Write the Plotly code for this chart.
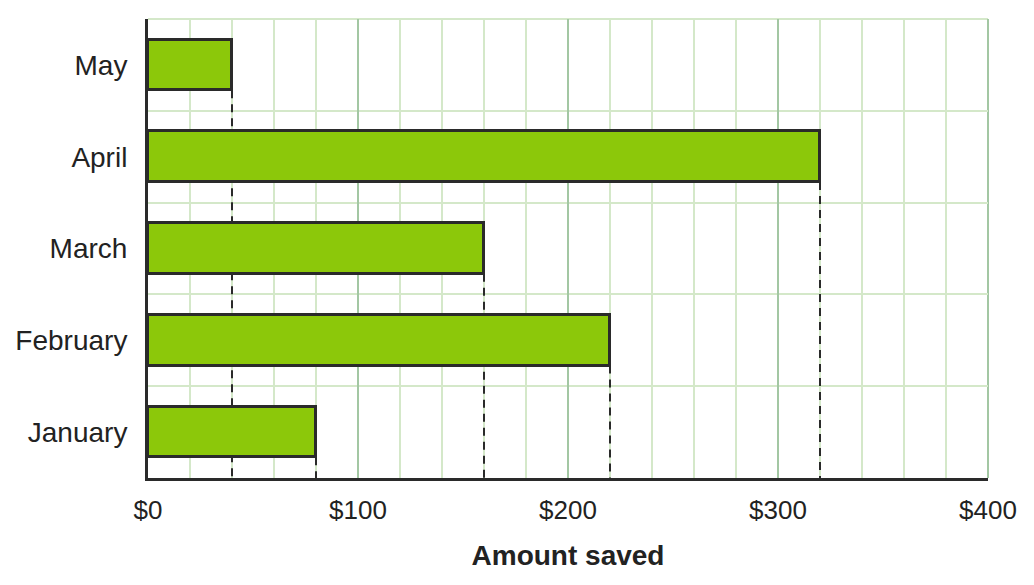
import plotly.graph_objects as go

months = ["January", "February", "March", "April", "May"]
saved = [80, 220, 160, 320, 40]
x_ticks = [0, 100, 200, 300, 400]
x_labels = ["$0", "$100", "$200", "$300", "$400"]

pos = list(range(len(months)))
bar_w = 0.55

fig = go.Figure()
fig.add_trace(go.Bar(
    x=saved, y=pos, orientation="h", width=bar_w,
    marker=dict(color="#8cc80a", line=dict(color="#2a2a2a", width=3)),
    hoverinfo="x+y",
))

# dashed drop lines from each bar end down to the axis
for p, v in zip(pos, saved):
    fig.add_shape(type="line", x0=v, x1=v, y0=p - bar_w / 2, y1=-0.5,
                  xref="x", yref="y", layer="between",
                  line=dict(color="#2a2a2a", width=2, dash="8px,6px"))

# plotly skips gridlines at the range edges, draw them by hand
fig.add_shape(type="line", x0=0, x1=1, y0=1, y1=1, xref="paper", yref="paper",
              layer="between", line=dict(color="#d4e8c9", width=2))
fig.add_shape(type="line", x0=1, x1=1, y0=0, y1=1, xref="paper", yref="paper",
              layer="between", line=dict(color="#a3c7a3", width=2))

# page has an 8px body margin, so the figure is a bit smaller than the window
fig.update_layout(
    width=1026, height=577,
    margin=dict(l=140, r=46, t=11, b=107),
    plot_bgcolor="white", paper_bgcolor="white",
    font=dict(family="Liberation Sans, Arial, sans-serif", size=26, color="#222222"),
    showlegend=False,
    bargap=0,
)
fig.update_xaxes(
    range=[0, 400], tickvals=x_ticks, ticktext=x_labels,
    showgrid=True, gridcolor="#a3c7a3", gridwidth=2,
    minor=dict(dtick=20, tick0=0, showgrid=True, gridcolor="#d4e8c9", gridwidth=2),
    showline=True, linecolor="#2a2a2a", linewidth=3,
    ticks="", ticklabelstandoff=7, tickfont=dict(size=26),
    title=dict(text="<b>Amount saved</b>", standoff=22, font=dict(size=28)),
    zeroline=False, automargin=False,
)
fig.update_yaxes(
    range=[-0.5, 4.5], tickvals=pos, ticktext=months,
    showgrid=False,
    minor=dict(tickvals=[-0.5, 0.5, 1.5, 2.5, 3.5], showgrid=True,
               gridcolor="#d4e8c9", gridwidth=2),
    showline=True, linecolor="#2a2a2a", linewidth=3,
    ticks="", ticklabelstandoff=12, tickfont=dict(size=28),
    zeroline=False, automargin=False,
)

fig.write_html("out.html")
